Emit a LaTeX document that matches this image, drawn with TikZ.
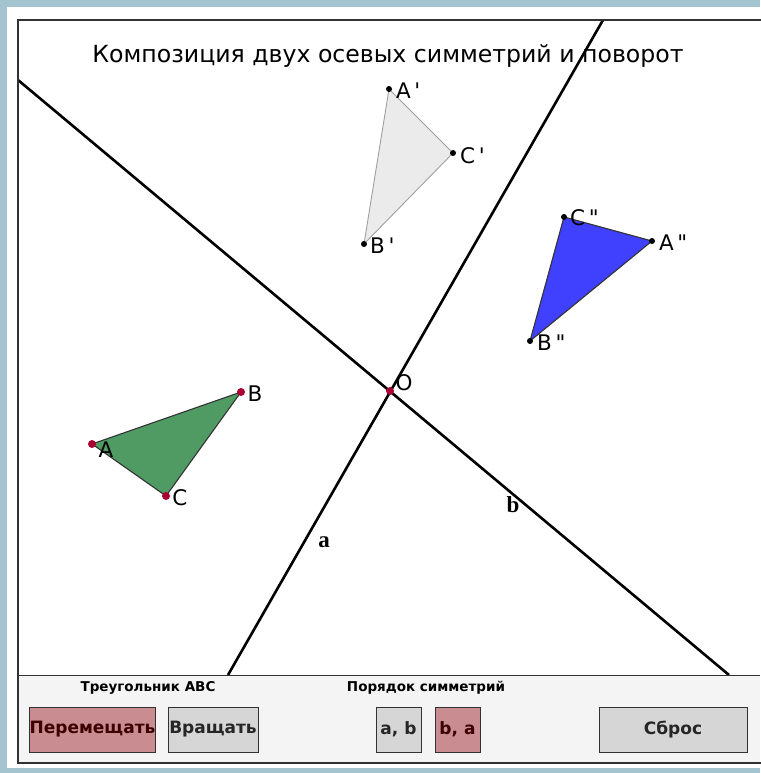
\documentclass[tikz,border=0pt]{standalone}
\usepackage{fontspec}
\newfontfamily\geofont{DejaVu Sans}
\newfontfamily\axfont{Liberation Serif}
\definecolor{ggbback}{RGB}{164,196,208}
\definecolor{ggbpanel}{RGB}{244,244,244}
\definecolor{ggbframe}{RGB}{50,50,50}
\definecolor{ggbpoint}{RGB}{170,0,50}
\definecolor{ggbgreen}{RGB}{80,155,100}
\definecolor{ggbblue}{RGB}{64,64,255}
\definecolor{ggbghost}{RGB}{235,235,235}
\definecolor{ggbghostline}{RGB}{160,160,160}
\definecolor{ggbpink}{RGB}{200,140,145}
\definecolor{ggbbutton}{RGB}{214,214,214}
\definecolor{ggbbtntext}{RGB}{60,0,0}
\usetikzlibrary{positioning}

\begin{document}
\begin{tikzpicture}[x=1pt, y=-1pt,
  axis/.style={line width=2.6pt, black},
  tri/.style={draw=black!80, line width=1.1pt, line join=round},
  reddot/.style={circle, fill=ggbpoint, inner sep=0pt, minimum size=8pt},
  blackdot/.style={circle, fill=black, inner sep=0pt, minimum size=6pt},
  lbl/.style={font=\geofont\fontsize{21.5}{24}\selectfont, inner sep=0pt},
  axlbl/.style={font=\axfont\bfseries\fontsize{23}{25}\selectfont, inner sep=0pt},
  caption/.style={font=\geofont\bfseries\fontsize{13.5}{15}\selectfont, inner sep=0pt},
  button/.style={draw=ggbframe, line width=0.9pt, fill=ggbbutton, minimum height=45pt, inner sep=0pt, font=\geofont\bfseries\fontsize{17}{19}\selectfont, text=black!85},
  pressed/.style={button, fill=ggbpink, text=ggbbtntext}
]

\useasboundingbox (0,0) rectangle (760,773);
\fill[ggbback] (0,0) rectangle (760,773);
\fill[white] (7,7) rectangle (760,768);
\fill[ggbpanel] (18,675) rectangle (760,763);

\node[font=\geofont\fontsize{23.6}{27}\selectfont] (title) at (388,56) {Композиция двух осевых симметрий и поворот};

\coordinate (a1) at (228,675);
\coordinate (a2) at (603,20);
\coordinate (b1) at (18,80);
\coordinate (b2) at (729,675);
\coordinate (O) at (390,391);
\draw[axis] (a1) -- (a2);
\draw[axis] (b1) -- (b2);
\node[axlbl] (la) at (324,542) {a};
\node[axlbl] (lb) at (513,505) {b};

\coordinate (A) at (92,444);
\coordinate (B) at (241,392);
\coordinate (C) at (166,496);
\filldraw[tri, fill=ggbgreen] (A) -- (B) -- (C) -- cycle;

\coordinate (A1) at (389,89);
\coordinate (B1) at (364,244);
\coordinate (C1) at (453,153);
\filldraw[tri, draw=ggbghostline, line width=0.9pt, fill=ggbghost] (A1) -- (B1) -- (C1) -- cycle;

\coordinate (A2) at (652,241);
\coordinate (B2) at (530,341);
\coordinate (C2) at (564,217);
\filldraw[tri, fill=ggbblue] (A2) -- (B2) -- (C2) -- cycle;

\node[reddot] (dA) at (A) {};
\node[reddot] (dB) at (B) {};
\node[reddot] (dC) at (C) {};
\node[reddot] (dO) at (O) {};
\foreach \p in {A1,B1,C1,A2,B2,C2}
  \node[blackdot] (d\p) at (\p) {};

\node[lbl] (lA) at (106,450) {A};
\node[lbl] (lB) at (255,394) {B};
\node[lbl] (lC) at (180,498) {C};
\node[lbl] (lO) at (404,383) {O};
\node[lbl, anchor=west] (lA1) at (396,91) {A\,'};
\node[lbl, anchor=west] (lC1) at (460,156) {C\,'};
\node[lbl, anchor=west] (lB1) at (370,246) {B\,'};
\node[lbl, anchor=west] (lC2) at (570,218) {C\,"};
\node[lbl, anchor=west] (lA2) at (659,243) {A\,"};
\node[lbl, anchor=west] (lB2) at (537,343) {B\,"};

\draw[ggbframe, line width=1pt] (18,675) -- (760,675);
\draw[ggbframe, line width=1.8pt] (764,20) -- (18,20) -- (18,763) -- (764,763);

\node[caption] (capT) at (148,688) {Треугольник АВС};
\node[caption] (capS) at (426,688) {Порядок симметрий};
\node[pressed, minimum width=123pt] (move) at (92.5,729.5) {Перемещать};
\node[button, minimum width=90pt] (rotate) at (213,729.5) {Вращать};
\node[button, minimum width=45pt] (ab) at (398.5,729.5) {a, b};
\node[pressed, minimum width=45pt] (ba) at (457.5,729.5) {b, a};
\node[button, minimum width=148pt] (reset) at (673,729.5) {Сброс};

\end{tikzpicture}
\end{document}
